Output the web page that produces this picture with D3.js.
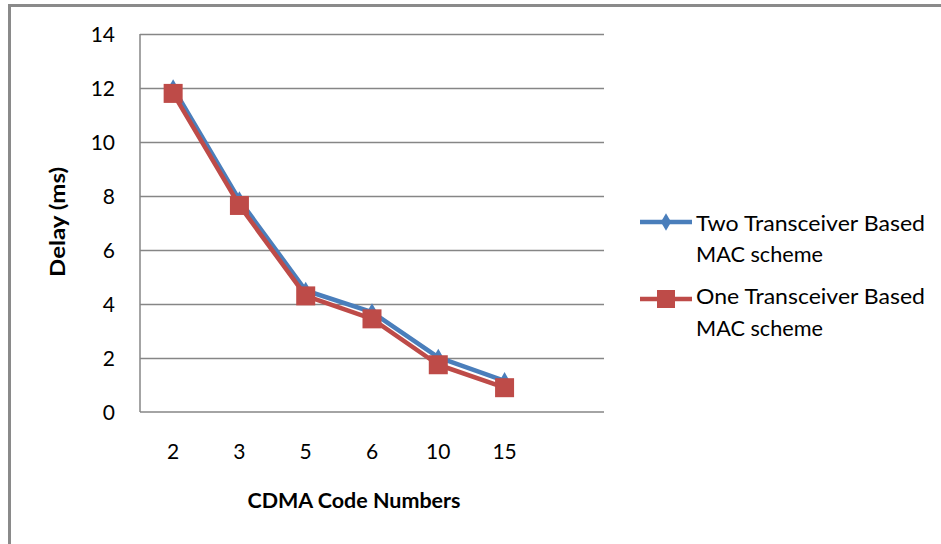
<!DOCTYPE html>
<html><head><meta charset="utf-8">
<script src="https://cdn.jsdelivr.net/npm/d3@7"></script>
<style>
html,body{margin:0;padding:0;background:#fff;}
text{font-family:Lato,"Open Sans",sans-serif;}
</style></head>
<body><svg id="c" width="941" height="544"></svg>
<script>
const categories = ["2","3","5","6","10","15"];
const twoTransceiver = [12.0, 7.85, 4.5, 3.7, 2.02, 1.15];
const oneTransceiver = [11.8, 7.65, 4.3, 3.45, 1.75, 0.9];
const yTicks = [0,2,4,6,8,10,12,14];
const seriesNames = [["Two Transceiver Based","MAC scheme"],["One Transceiver Based","MAC scheme"]];

const svg = d3.select("#c");
// outer frame
svg.append("rect").attr("x",9.5).attr("y",5.5).attr("width",960).attr("height",560)
  .attr("fill","none").attr("stroke","#8a8a8a").attr("stroke-width",3);

const L=140, R=604, T=34, B=412;
const slot=(R-L)/7;
const x=d3.scaleBand().domain(categories).range([L, L+slot*categories.length]);
const y=d3.scaleLinear().domain([0,14]).range([B,T]);

// gridlines
const grid=svg.append("g").attr("transform",`translate(${L},0)`)
  .call(d3.axisLeft(y).tickValues(yTicks.filter(v=>v>0)).tickSize(-(R-L)).tickFormat(""));
grid.select(".domain").remove();
grid.selectAll("line").attr("stroke","#868686").attr("stroke-width",1.5);

// axes lines
svg.append("line").attr("x1",L).attr("x2",L).attr("y1",T).attr("y2",B).attr("stroke","#868686").attr("stroke-width",1.5);
svg.append("line").attr("x1",L).attr("x2",R).attr("y1",B).attr("y2",B).attr("stroke","#868686").attr("stroke-width",1.5);

// y tick labels
const ya=svg.append("g").attr("transform",`translate(${L},0)`)
  .call(d3.axisLeft(y).tickValues(yTicks).tickSize(0).tickPadding(25));
ya.select(".domain").remove();
ya.selectAll("text").attr("font-size",21).attr("fill","#000").attr("font-family","Lato").attr("dy","0.36em");

// x tick labels
const xa=svg.append("g").attr("transform",`translate(0,${B})`)
  .call(d3.axisBottom(x).tickSize(0).tickPadding(32));
xa.select(".domain").remove();
xa.selectAll("text").attr("font-size",21).attr("fill","#000").attr("font-family","Lato");

// axis titles
svg.append("text").attr("x",354).attr("y",508).attr("text-anchor","middle")
  .attr("font-size",20).attr("font-weight","bold").attr("textLength",213).attr("lengthAdjust","spacingAndGlyphs")
  .text("CDMA Code Numbers");
svg.append("text").attr("transform","translate(65,222) rotate(-90)").attr("text-anchor","middle")
  .attr("font-size",20).attr("font-weight","bold").attr("textLength",110).attr("lengthAdjust","spacingAndGlyphs")
  .text("Delay (ms)");

const line=d3.line().x((d,i)=>x(categories[i])+x.bandwidth()/2).y(d=>y(d));
const blue="#4A7EBB", red="#BE4B48";

svg.append("path").datum(twoTransceiver).attr("d",line).attr("fill","none").attr("stroke",blue).attr("stroke-width",4.5).attr("stroke-linejoin","round");
svg.selectAll(".dm").data(twoTransceiver).join("path").attr("class","dm")
  .attr("d",d3.symbol(d3.symbolDiamond,90))
  .attr("transform",(d,i)=>`translate(${x(categories[i])+x.bandwidth()/2},${y(d)})`)
  .attr("fill",blue);

svg.append("path").datum(oneTransceiver).attr("d",line).attr("fill","none").attr("stroke",red).attr("stroke-width",4.5).attr("stroke-linejoin","round");
svg.selectAll(".sq").data(oneTransceiver).join("rect").attr("class","sq")
  .attr("x",(d,i)=>x(categories[i])+x.bandwidth()/2-9.5).attr("y",d=>y(d)-9.5)
  .attr("width",19).attr("height",19).attr("fill",red);

// legend
const leg=[{c:blue,ly:222,t:230.5},{c:red,ly:299,t:304}];
leg.forEach((g,k)=>{
  svg.append("line").attr("x1",640).attr("x2",692).attr("y1",g.ly).attr("y2",g.ly).attr("stroke",g.c).attr("stroke-width",4.5);
  if(k===0){
    svg.append("path").attr("d",d3.symbol(d3.symbolDiamond,90)).attr("transform",`translate(666,${g.ly})`).attr("fill",g.c);
  } else {
    svg.append("rect").attr("x",657).attr("y",g.ly-9).attr("width",18).attr("height",18).attr("fill",g.c);
  }
  svg.append("text").attr("x",696).attr("y",g.t).attr("font-size",21)
    .attr("textLength",229).attr("lengthAdjust","spacingAndGlyphs").text(seriesNames[k][0]);
  svg.append("text").attr("x",696).attr("y",g.t+31.5).attr("font-size",21)
    .attr("textLength",127).attr("lengthAdjust","spacingAndGlyphs").text(seriesNames[k][1]);
});
</script></body></html>
